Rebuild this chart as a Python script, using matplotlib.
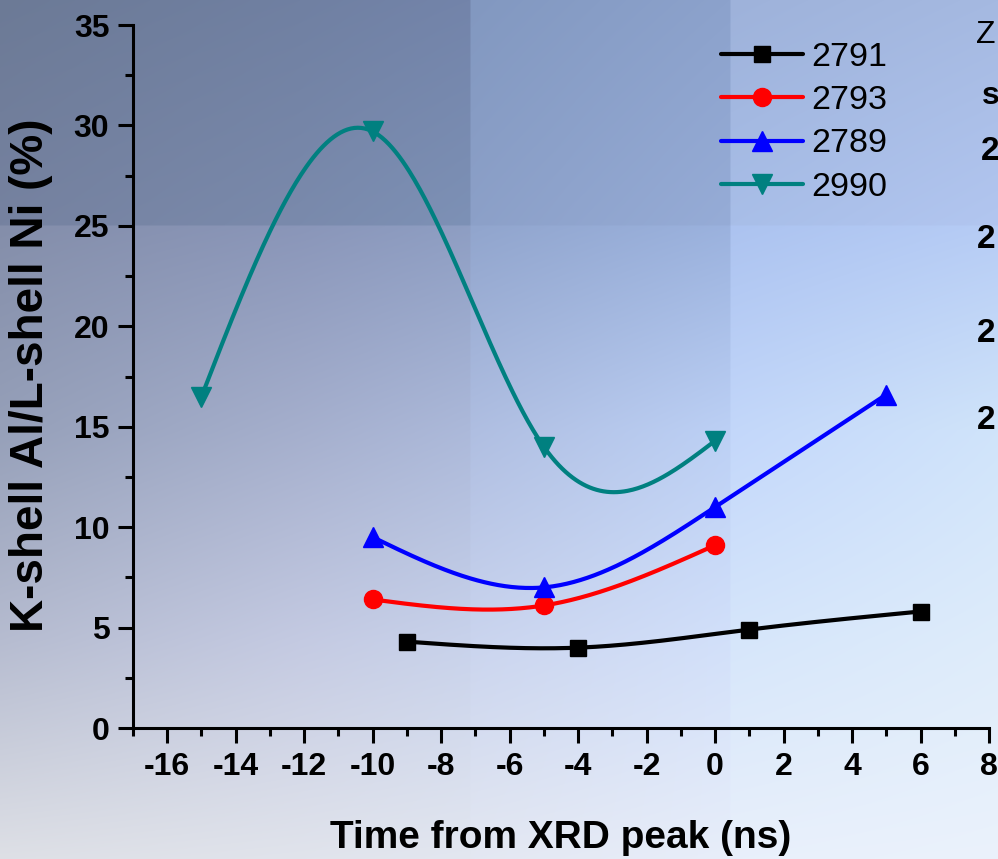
import numpy as np
import matplotlib
matplotlib.use("Agg")
import matplotlib.pyplot as plt
from matplotlib.ticker import MultipleLocator

plt.rcParams['font.family'] = ['Liberation Sans', 'DejaVu Sans']
plt.rcParams['axes.unicode_minus'] = False

# ---- data -------------------------------------------------------------
shots = ["2791", "2793", "2789", "2990"]
t_2791 = [-9, -4, 1, 6]
r_2791 = [4.3, 4.0, 4.9, 5.8]
t_2793 = [-10, -5, 0]
r_2793 = [6.4, 6.1, 9.1]
t_2789 = [-10, -5, 0, 5]
r_2789 = [9.5, 7.0, 11.0, 16.6]
t_2990 = [-15, -10, -5, 0]
r_2990 = [16.5, 29.7, 14.0, 14.3]

x_ticks = [-16, -14, -12, -10, -8, -6, -4, -2, 0, 2, 4, 6, 8]
y_ticks = [0, 5, 10, 15, 20, 25, 30, 35]


def natural_spline(x, y, n=300):
    """Natural cubic spline through the given points."""
    x = np.asarray(x, float)
    y = np.asarray(y, float)
    k = len(x)
    h = np.diff(x)
    A = np.zeros((k, k))
    b = np.zeros(k)
    A[0, 0] = A[-1, -1] = 1.0
    for i in range(1, k - 1):
        A[i, i - 1] = h[i - 1]
        A[i, i] = 2 * (h[i - 1] + h[i])
        A[i, i + 1] = h[i]
        b[i] = 6 * ((y[i + 1] - y[i]) / h[i] - (y[i] - y[i - 1]) / h[i - 1])
    M = np.linalg.solve(A, b)
    xs = np.linspace(x[0], x[-1], n)
    idx = np.clip(np.searchsorted(x, xs) - 1, 0, k - 2)
    x0, x1 = x[idx], x[idx + 1]
    hh = x1 - x0
    a = (x1 - xs) / hh
    c = (xs - x0) / hh
    ys = (a * y[idx] + c * y[idx + 1]
          + ((a ** 3 - a) * M[idx] + (c ** 3 - c) * M[idx + 1]) * hh ** 2 / 6)
    return xs, ys


# ---- figure & slide background ---------------------------------------
W, H = 998, 859
fig = plt.figure(figsize=(W / 100, H / 100), dpi=100)

gx = np.array([0, 300, 469, 471, 729, 731, 998], float)
gy = np.array([0, 224, 226, 430, 640, 859], float)
ctrl = np.array([
    [(108, 122, 150), (112, 128, 162), (115, 132, 170), (130, 152, 192), (140, 162, 204), (158, 178, 218), (165, 185, 225)],
    [(118, 130, 160), (122, 138, 172), (125, 145, 182), (140, 160, 200), (150, 172, 215), (168, 190, 232), (178, 198, 240)],
    [(132, 142, 170), (138, 150, 185), (142, 158, 195), (145, 165, 205), (155, 178, 222), (172, 195, 240), (182, 204, 245)],
    [(150, 160, 185), (165, 175, 205), (172, 185, 218), (175, 190, 225), (188, 208, 245), (195, 215, 250), (208, 228, 250)],
    [(182, 188, 208), (196, 202, 226), (200, 210, 235), (202, 212, 238), (210, 224, 250), (214, 230, 250), (222, 236, 250)],
    [(222, 224, 230), (225, 228, 236), (227, 231, 240), (228, 232, 242), (232, 238, 250), (233, 240, 251), (235, 242, 252)],
], float)
px = np.arange(W)
py = np.arange(H)
rows = np.empty((len(gy), W, 3))
for j in range(len(gy)):
    for ch in range(3):
        rows[j, :, ch] = np.interp(px, gx, ctrl[j, :, ch])
bg = np.empty((H, W, 3))
for ch in range(3):
    for i in range(W):
        bg[:, i, ch] = np.interp(py, gy, rows[:, i, ch])
bg = np.clip(bg, 0, 255) / 255.0

bgax = fig.add_axes([0, 0, 1, 1])
bgax.imshow(bg, aspect='auto', extent=[0, W, H, 0], interpolation='bilinear')
bgax.set_xlim(0, W)
bgax.set_ylim(H, 0)
bgax.axis('off')

# ---- main axes --------------------------------------------------------
left, right, top, bottom = 133, 989, 25, 728
ax = fig.add_axes([left / W, 1 - bottom / H, (right - left) / W, (bottom - top) / H])
ax.patch.set_alpha(0)

series = [
    (t_2791, r_2791, 'black', 's', 11.5),
    (t_2793, r_2793, '#FF0000', 'o', 13),
    (t_2789, r_2789, '#0000FF', '^', 14),
    (t_2990, r_2990, '#008080', 'v', 14),
]
for name, (t, r, col, mk, ms) in zip(shots, series):
    xs, ys = natural_spline(t, r)
    ax.plot(xs, ys, color=col, lw=3.0, solid_capstyle='round', zorder=3)
    ax.plot(t, r, linestyle='none', marker=mk, ms=ms, color=col,
            mec=col, zorder=4)
    ax.plot([], [], color=col, lw=3.0, marker=mk, ms=ms,
            solid_capstyle='round', label=name)

ax.set_xlim(-17, 8)
ax.set_ylim(0, 35)
ax.set_xticks(x_ticks)
ax.set_yticks(y_ticks)
ax.xaxis.set_minor_locator(MultipleLocator(1))
ax.yaxis.set_minor_locator(MultipleLocator(2.5))
for s in ('top', 'right'):
    ax.spines[s].set_visible(False)
for s in ('left', 'bottom'):
    ax.spines[s].set_linewidth(2.2)
ax.tick_params(which='major', direction='out', length=11, width=2.2,
               labelsize=23, pad=6)
ax.tick_params(which='minor', direction='out', length=6, width=2.2)
for lab in ax.get_xticklabels() + ax.get_yticklabels():
    lab.set_fontweight('bold')

ax.set_xlabel('Time from XRD peak (ns)', fontsize=28, fontweight='bold',
              labelpad=28)
ax.set_ylabel('K-shell Al/L-shell Ni (%)', fontsize=33, fontweight='bold')
ax.yaxis.set_label_coords((53 - left) / (right - left),
                          (bottom - 375) / (bottom - top))

leg = ax.legend(loc='upper left', bbox_to_anchor=(721 / W, 1 - 42 / H),
                bbox_transform=fig.transFigure, frameon=False, fontsize=24.5,
                handlelength=2.4, handletextpad=0.25, labelspacing=0.36,
                borderaxespad=0, borderpad=0)

# text of the neighbouring slide column, cut off at the right edge
fig.text(976 / W, 1 - 35 / H, 'Z', fontsize=23, va='center', ha='left')
fig.text(982 / W, 1 - 96 / H, 's', fontsize=23, fontweight='bold',
         va='center', ha='left')
for yy, xx in [(152, 981), (240, 977), (333, 977), (420, 977)]:
    fig.text(xx / W, 1 - yy / H, '2', fontsize=24, fontweight='bold',
             va='center', ha='left')

fig.savefig('out.png', dpi=100)
